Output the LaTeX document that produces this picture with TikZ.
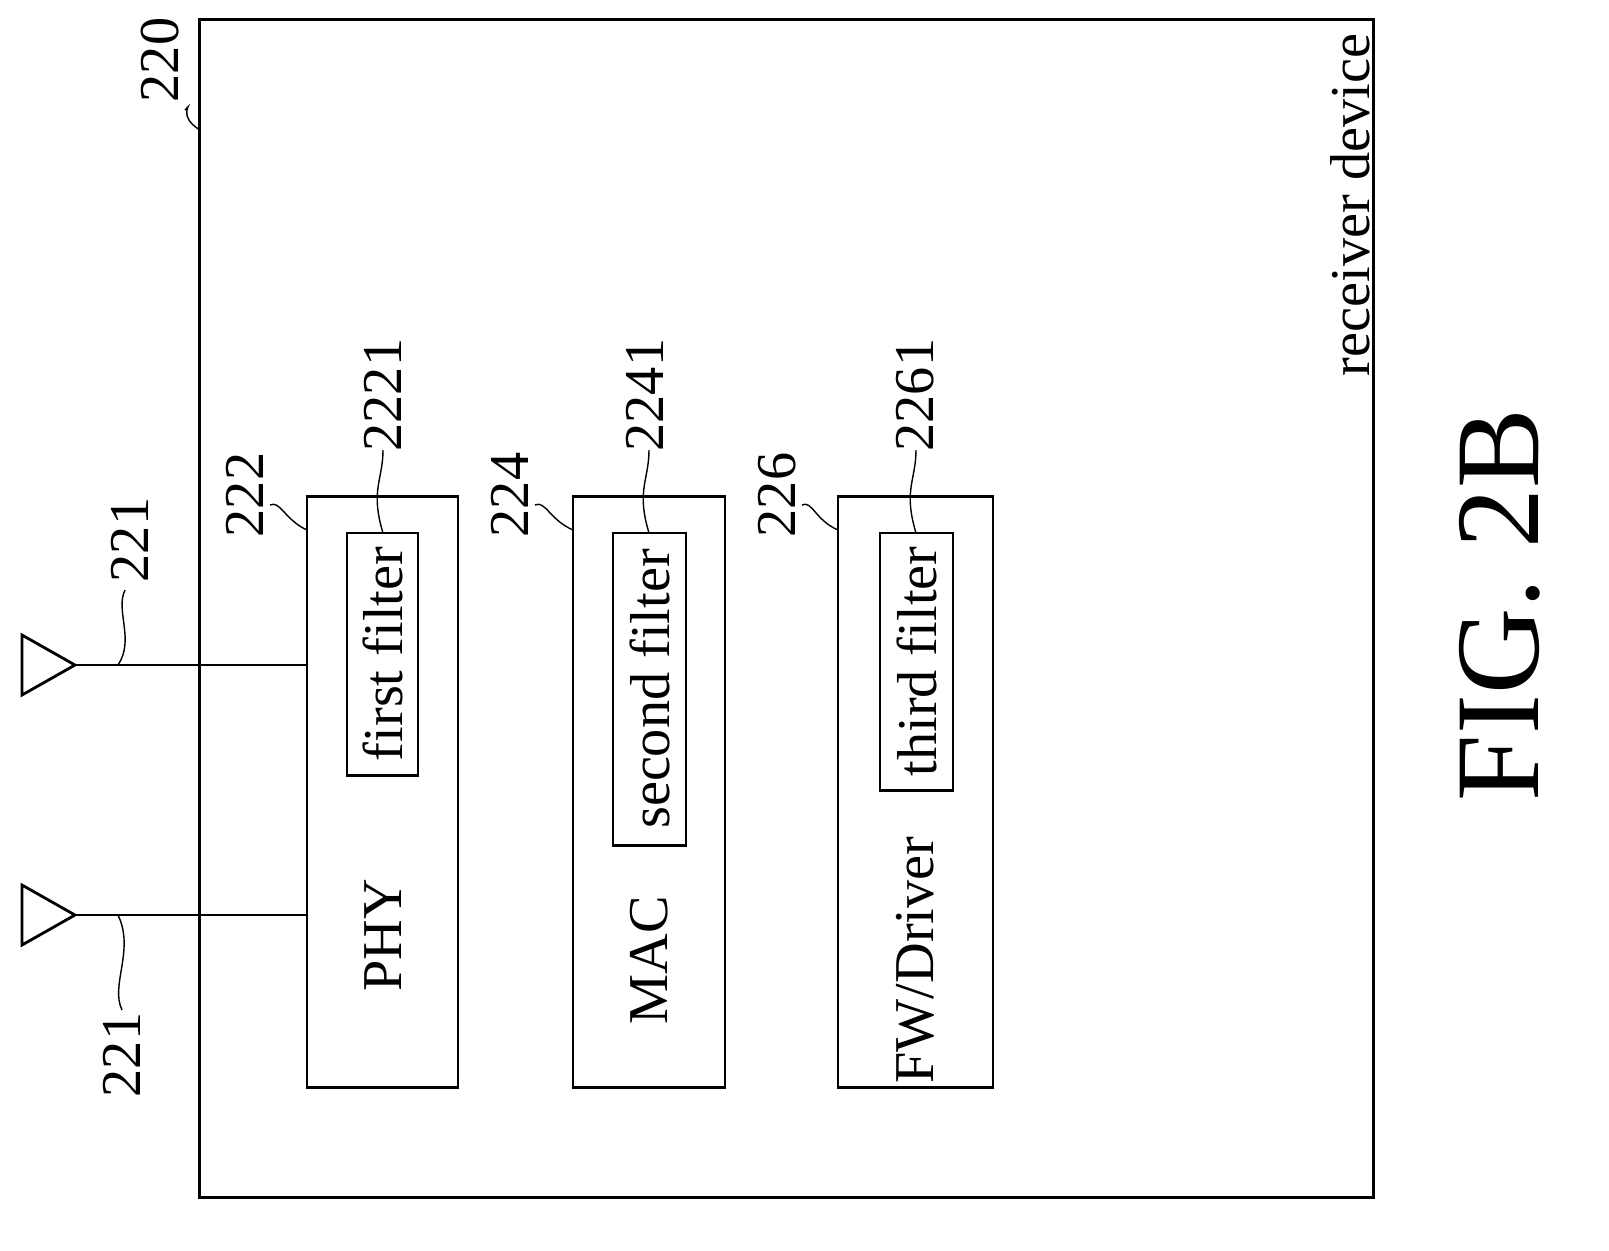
\documentclass[tikz,border=0pt]{standalone}
\usepackage{fontspec}
\setmainfont{Liberation Serif}
\usetikzlibrary{positioning,calc}
\tikzset{
  blk/.style={draw,thick,inner sep=0pt},
  lbl/.style={rotate=90,font=\fontsize{16}{18}\selectfont},
  lead/.style={thin}
}
\begin{document}
\begin{tikzpicture}[x=0.01cm,y=-0.01cm]

        % boxes
        \node[blk,minimum width=11.73cm,minimum height=11.77cm] (dev) at (786.5,608.5) {};
        \node[blk,minimum width=1.51cm,minimum height=5.9cm] (phy) at (382.5,792) {};
        \node[blk,minimum width=1.52cm,minimum height=5.9cm] (mac) at (649,792) {};
        \node[blk,minimum width=1.55cm,minimum height=5.9cm] (fw) at (915.5,792) {};
        \node[blk,minimum width=0.71cm,minimum height=2.42cm] (f1) at (382.5,654) {};
        \node[blk,minimum width=0.73cm,minimum height=3.12cm] (f2) at (649.5,689) {};
        \node[blk,minimum width=0.73cm,minimum height=2.57cm] (f3) at (916.5,661.5) {};

        % texts
        \node[lbl] (tdev) at (1350,205) {receiver device};
        \node[lbl] (tphy) at (383,935) {PHY};
        \node[lbl] (tmac) at (649,960) {MAC};
        \node[lbl] (tfw) at (915,960) {FW/Driver};
        \node[lbl] (tf1) at (382.5,654) {first filter};
        \node[lbl] (tf2) at (649.5,689) {second filter};
        \node[lbl] (tf3) at (916.5,661.5) {third filter};
        \node[rotate=90,font=\fontsize{34}{38}\selectfont] (fig) at (1500,605) {FIG. 2B};

        % antennas
        \coordinate (a1) at (75,665);
        \coordinate (a2) at (75,915);
        \draw[thick] (a1) -- (22,635) -- (22,695) -- cycle;
        \draw[thick] (a2) -- (22,885) -- (22,945) -- cycle;
        \draw[thick] (a1) -- (a1 -| phy.west);
        \draw[thick] (a2) -- (a2 -| phy.west);

        % reference numerals
        \node[lbl] (n220) at (160,60) {220};
        \node[lbl] (n221a) at (130,540) {221};
        \node[lbl] (n221b) at (122,1055) {221};
        \node[lbl] (n222) at (245,495) {222};
        \node[lbl] (n224) at (510,495) {224};
        \node[lbl] (n226) at (777,495) {226};
        \node[lbl] (n2221) at (383,395) {2221};
        \node[lbl] (n2241) at (645,395) {2241};
        \node[lbl] (n2261) at (915,395) {2261};

        % leaders
        \draw[lead] ($(n220)+(25,50)$) .. controls (195,100) and (175,115) .. (200,130);
        \draw[lead] ($(n221a)+(-5,50)$) .. controls (115,610) and (135,640) .. (118,665);
        \draw[lead] ($(n221b)+(0,-45)$) .. controls (110,985) and (135,950) .. (118,915);
        \draw[lead] ($(n222)+(25,10)$) .. controls (280,500) and (285,520) .. (307,530);
        \draw[lead] ($(n224)+(25,10)$) .. controls (545,500) and (550,520) .. (573,530);
        \draw[lead] ($(n226)+(25,10)$) .. controls (812,500) and (815,520) .. (838,530);
        \draw[lead] ($(n2221)+(0,55)$) .. controls (383,480) and (370,490) .. (383,533);
        \draw[lead] ($(n2241)+(4,55)$) .. controls (649,480) and (636,490) .. (649,533);
        \draw[lead] ($(n2261)+(1,55)$) .. controls (916,480) and (903,490) .. (916,533);

    \pgfresetboundingbox
    \useasboundingbox (0,0) rectangle (1609,1250);
\end{tikzpicture}
\end{document}
